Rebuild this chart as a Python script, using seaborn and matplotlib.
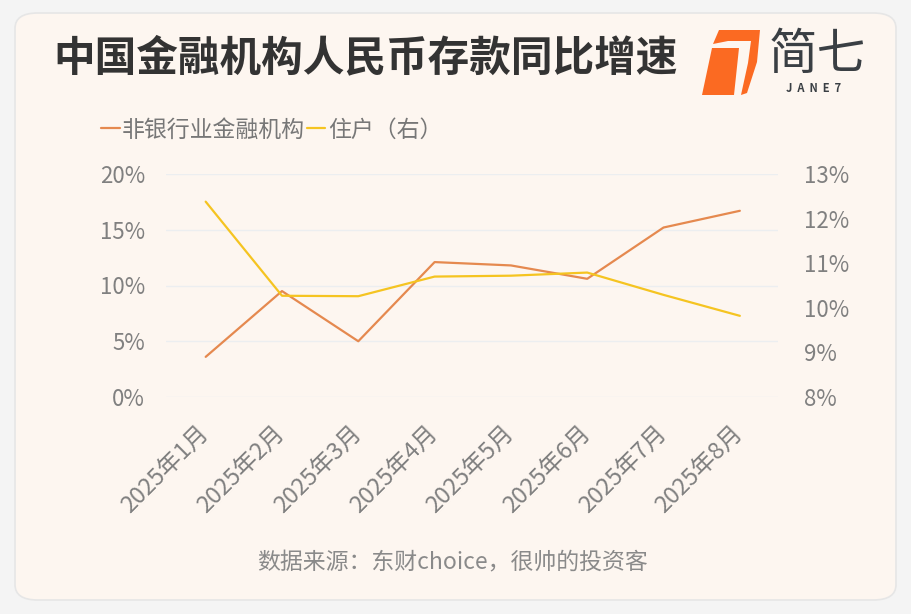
import pandas as pd
import matplotlib.pyplot as plt
import seaborn as sns
from matplotlib.patches import FancyBboxPatch, Polygon
from matplotlib.ticker import FuncFormatter, MultipleLocator

sns.set_style("white")
plt.rcParams['font.family'] = ['Noto Sans CJK SC', 'DejaVu Sans']

# data
months = ["2025年1月", "2025年2月", "2025年3月", "2025年4月",
          "2025年5月", "2025年6月", "2025年7月", "2025年8月"]
nonbank = [3.6, 9.5, 5.0, 12.1, 11.8, 10.6, 15.2, 16.7]      # left axis, %
household = [12.38, 10.27, 10.26, 10.70, 10.72, 10.79, 10.29, 9.82]  # right axis, %

title = "中国金融机构人民币存款同比增速"
source = "数据来源：东财choice，很帅的投资客"

ORANGE = '#e5894f'
YELLOW = '#f5c421'
BG = '#fdf6f0'
TICK = '#808080'

df = pd.DataFrame({'月份': months, '非银行业金融机构': nonbank, '住户（右）': household})

fig = plt.figure(figsize=(9.11, 6.14), dpi=100)
fig.patch.set_facecolor('#f4f4f4')

# card background
card = FancyBboxPatch((15 / 911, 1 - 600 / 614), 881 / 911, 587 / 614,
                      boxstyle="round,pad=0,rounding_size=0.025",
                      transform=fig.transFigure, facecolor=BG,
                      edgecolor='#e6e6e6', linewidth=1.2, zorder=-10)
fig.patches.append(card)

ax = fig.add_axes([166 / 911, 1 - 397 / 614, 612 / 911, 223 / 614])
ax.set_facecolor('none')
ax2 = ax.twinx()

sns.lineplot(data=df, x='月份', y='非银行业金融机构', ax=ax, color=ORANGE,
             linewidth=1.6, label='非银行业金融机构', legend=False)
sns.lineplot(data=df, x='月份', y='住户（右）', ax=ax2, color=YELLOW,
             linewidth=1.6, label='住户（右）', legend=False)

ax.set_xlim(-0.52, 7.5)
ax.set_ylim(0, 20)
ax2.set_ylim(8, 13)
ax.yaxis.set_major_locator(MultipleLocator(5))
ax2.yaxis.set_major_locator(MultipleLocator(1))
ax.yaxis.set_major_formatter(FuncFormatter(lambda v, p: f'{v:.0f}%'))
ax2.yaxis.set_major_formatter(FuncFormatter(lambda v, p: f'{v:.0f}%'))

ax.grid(axis='y', color='#eceef0', linewidth=1.0)
ax.set_axisbelow(True)
ax.set_xlabel('')
ax.set_ylabel('')
ax2.set_ylabel('')

for a in (ax, ax2):
    for s in a.spines.values():
        s.set_visible(False)
    a.tick_params(length=0, labelsize=16, labelcolor=TICK)
ax.tick_params(axis='y', pad=15)
ax2.tick_params(axis='y', pad=19)
ax.tick_params(axis='x', pad=24, labelsize=17)
plt.setp(ax.get_xticklabels(), rotation=45, ha='right', va='center',
         rotation_mode='anchor')

# legend
h1, l1 = ax.get_legend_handles_labels()
h2, l2 = ax2.get_legend_handles_labels()
fig.legend(h1 + h2, l1 + l2, loc='center left', bbox_to_anchor=(92 / 911, 1 - 130 / 614),
           ncol=2, frameon=False, fontsize=16.5, labelcolor='#777777',
           handlelength=0.8, handletextpad=0.1, columnspacing=0.1, borderaxespad=0)

# title and source
fig.text(53 / 911, 1 - 58 / 614, title, fontsize=30, fontweight='bold',
         color='#333333', va='center', ha='left')
fig.text(453 / 911, 1 - 563 / 614, source, fontsize=16.5, color='#8a8a8a',
         va='center', ha='center')

# logo
def px(x, y):
    return (x / 911, 1 - y / 614)

block = Polygon([px(702, 95), px(712, 48), px(739, 48), px(734, 95)],
                closed=True, transform=fig.transFigure, facecolor='#fb6a22', edgecolor='none')
hook = Polygon([px(713, 44), px(719, 30), px(760, 30), px(757, 62), px(747, 93),
                px(741, 95), px(748, 63), px(751, 41), px(728, 41)],
               closed=True, transform=fig.transFigure, facecolor='#fb6a22', edgecolor='none')
fig.patches.extend([block, hook])
fig.text(817 / 911, 1 - 55 / 614, '简七', fontsize=35, color='#3a3f44',
         ha='center', va='center')
fig.text(814 / 911, 1 - 88 / 614, 'J  A  N  E  7', fontsize=8, fontweight='bold',
         color='#3a3f44', ha='center', va='center')

fig.savefig('out.png', dpi=100, facecolor=fig.get_facecolor())
